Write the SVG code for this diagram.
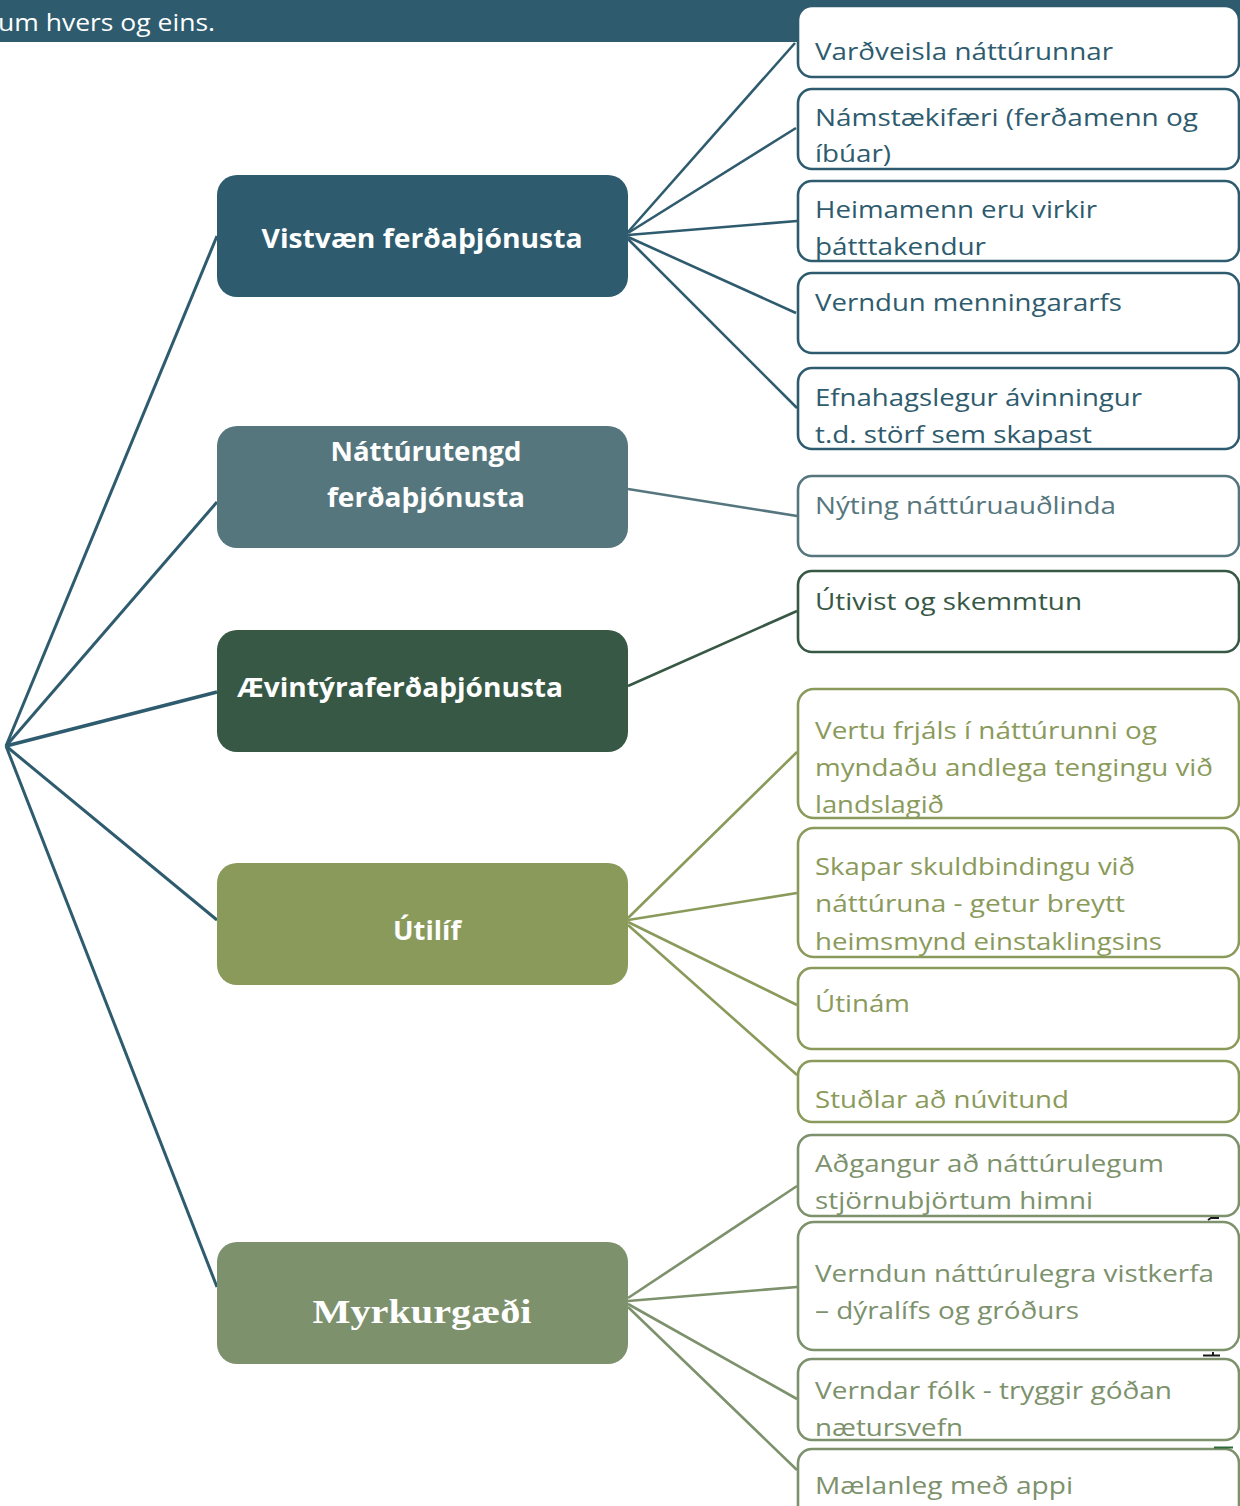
<svg xmlns="http://www.w3.org/2000/svg" width="1240" height="1506" viewBox="0 0 1240 1506">
<style>
.mt{font-family:"Open Sans","Noto Sans",sans-serif;font-weight:bold;font-size:27px;fill:#ffffff}
.serif{font-family:"Liberation Serif","DejaVu Serif",serif;font-weight:bold;font-size:33px;fill:#ffffff}
.leaf{fill:#ffffff;stroke-width:2.6}
.lt{font-family:"Open Sans","Noto Sans",sans-serif;font-size:24px}
.c1{stroke:#2e5b6e}.f1{fill:#2e5b6e}
.c2{stroke:#56767e}.f2{fill:#56767e}
.c3{stroke:#375845}.f3{fill:#375845}
.c4{stroke:#8a9a5b}.f4{fill:#8a9a5b}
.c5{stroke:#7c916c}.f5{fill:#7c916c}
#connectors line{fill:none;stroke-width:2.6}
.mark{stroke:#1a1a1a;stroke-width:2;fill:none}
</style>
<rect width="1240" height="1506" fill="#ffffff"/>
<g id="header">
<rect x="0" y="0" width="1240" height="42" fill="#2e5b6e"/>
<text x="-2" y="31" font-family="Open Sans,Noto Sans,sans-serif" font-size="24" fill="#ffffff" textLength="217" lengthAdjust="spacingAndGlyphs">um hvers og eins.</text>
</g>
<g id="connectors">
<line class="c1" x1="6" y1="746" x2="217" y2="236" style="stroke-width:3"/>
<line class="c1" x1="6" y1="746" x2="217" y2="502" style="stroke-width:3"/>
<line class="c1" x1="6" y1="746" x2="217" y2="692" style="stroke-width:3.4"/>
<line class="c1" x1="6" y1="746" x2="217" y2="920" style="stroke-width:3"/>
<line class="c1" x1="6" y1="746" x2="217" y2="1287" style="stroke-width:3"/>
<line class="c1" x1="628" y1="232" x2="795" y2="43"/>
<line class="c1" x1="628" y1="233" x2="796" y2="128"/>
<line class="c1" x1="628" y1="235" x2="797" y2="221"/>
<line class="c1" x1="628" y1="237" x2="796" y2="313"/>
<line class="c1" x1="628" y1="239" x2="797" y2="408"/>
<line class="c2" x1="628" y1="489" x2="797" y2="516"/>
<line class="c3" x1="628" y1="686" x2="797" y2="611"/>
<line class="c4" x1="628" y1="918" x2="797" y2="752"/>
<line class="c4" x1="628" y1="920" x2="797" y2="893"/>
<line class="c4" x1="628" y1="922" x2="797" y2="1005"/>
<line class="c4" x1="628" y1="925" x2="797" y2="1075"/>
<line class="c5" x1="628" y1="1298" x2="797" y2="1186"/>
<line class="c5" x1="628" y1="1301" x2="797" y2="1287"/>
<line class="c5" x1="628" y1="1304" x2="797" y2="1399"/>
<line class="c5" x1="628" y1="1307" x2="797" y2="1470"/>
</g>
<g id="vistvaen">
<rect x="217" y="175" width="411" height="122" rx="20" class="f1"/>
<text x="422" y="248" class="mt" text-anchor="middle" textLength="321" lengthAdjust="spacingAndGlyphs">Vistvæn ferðaþjónusta</text>
</g>
<g id="natturutengd">
<rect x="217" y="426" width="411" height="122" rx="20" class="f2"/>
<text x="426" y="461" class="mt" text-anchor="middle" textLength="191" lengthAdjust="spacingAndGlyphs">Náttúrutengd</text>
<text x="426" y="507" class="mt" text-anchor="middle" textLength="198" lengthAdjust="spacingAndGlyphs">ferðaþjónusta</text>
</g>
<g id="aevintyra">
<rect x="217" y="630" width="411" height="122" rx="20" class="f3"/>
<text x="237" y="697" class="mt" textLength="326" lengthAdjust="spacingAndGlyphs">Ævintýraferðaþjónusta</text>
</g>
<g id="utilif">
<rect x="217" y="863" width="411" height="122" rx="20" class="f4"/>
<text x="427" y="940" class="mt" text-anchor="middle" textLength="68" lengthAdjust="spacingAndGlyphs">Útilíf</text>
</g>
<g id="myrkurgaedi">
<rect x="217" y="1242" width="411" height="122" rx="20" class="f5"/>
<text x="422" y="1323" class="serif" text-anchor="middle" textLength="219" lengthAdjust="spacingAndGlyphs">Myrkurgæði</text>
</g>
<g id="leaf1">
<rect x="798" y="6" width="441" height="71" rx="14" class="leaf c1"/>
<text x="815" y="60" class="lt f1" textLength="298" lengthAdjust="spacingAndGlyphs">Varðveisla náttúrunnar</text>
</g>
<g id="leaf2">
<rect x="798" y="89" width="441" height="80" rx="14" class="leaf c1"/>
<text x="815" y="126" class="lt f1" textLength="383" lengthAdjust="spacingAndGlyphs">Námstækifæri (ferðamenn og</text>
<text x="815" y="162" class="lt f1" textLength="76" lengthAdjust="spacingAndGlyphs">íbúar)</text>
</g>
<g id="leaf3">
<rect x="798" y="181" width="441" height="80" rx="14" class="leaf c1"/>
<text x="815" y="218" class="lt f1" textLength="282" lengthAdjust="spacingAndGlyphs">Heimamenn eru virkir</text>
<text x="815" y="255" class="lt f1" textLength="171" lengthAdjust="spacingAndGlyphs">þátttakendur</text>
</g>
<g id="leaf4">
<rect x="798" y="273" width="441" height="80" rx="14" class="leaf c1"/>
<text x="815" y="311" class="lt f1" textLength="307" lengthAdjust="spacingAndGlyphs">Verndun menningararfs</text>
</g>
<g id="leaf5">
<rect x="798" y="368" width="441" height="81" rx="14" class="leaf c1"/>
<text x="815" y="406" class="lt f1" textLength="327" lengthAdjust="spacingAndGlyphs">Efnahagslegur ávinningur</text>
<text x="815" y="443" class="lt f1" textLength="277" lengthAdjust="spacingAndGlyphs">t.d. störf sem skapast</text>
</g>
<g id="leaf6">
<rect x="798" y="476" width="441" height="80" rx="14" class="leaf c2"/>
<text x="815" y="514" class="lt f2" textLength="301" lengthAdjust="spacingAndGlyphs">Nýting náttúruauðlinda</text>
</g>
<g id="leaf7">
<rect x="798" y="571" width="441" height="81" rx="14" class="leaf c3"/>
<text x="815" y="610" class="lt f3" textLength="267" lengthAdjust="spacingAndGlyphs">Útivist og skemmtun</text>
</g>
<g id="leaf8">
<rect x="798" y="689" width="441" height="129" rx="16" class="leaf c4"/>
<text x="815" y="739" class="lt f4" textLength="342" lengthAdjust="spacingAndGlyphs">Vertu frjáls í náttúrunni og</text>
<text x="815" y="776" class="lt f4" textLength="398" lengthAdjust="spacingAndGlyphs">myndaðu andlega tengingu við</text>
<text x="815" y="813" class="lt f4" textLength="129" lengthAdjust="spacingAndGlyphs">landslagið</text>
</g>
<g id="leaf9">
<rect x="798" y="828" width="441" height="129" rx="16" class="leaf c4"/>
<text x="815" y="875" class="lt f4" textLength="320" lengthAdjust="spacingAndGlyphs">Skapar skuldbindingu við</text>
<text x="815" y="912" class="lt f4" textLength="310" lengthAdjust="spacingAndGlyphs">náttúruna - getur breytt</text>
<text x="815" y="950" class="lt f4" textLength="347" lengthAdjust="spacingAndGlyphs">heimsmynd einstaklingsins</text>
</g>
<g id="leaf10">
<rect x="798" y="968" width="441" height="81" rx="14" class="leaf c4"/>
<text x="815" y="1012" class="lt f4" textLength="95" lengthAdjust="spacingAndGlyphs">Útinám</text>
</g>
<g id="leaf11">
<rect x="798" y="1061" width="441" height="61" rx="14" class="leaf c4"/>
<text x="815" y="1108" class="lt f4" textLength="254" lengthAdjust="spacingAndGlyphs">Stuðlar að núvitund</text>
</g>
<g id="leaf12">
<rect x="798" y="1135" width="441" height="81" rx="14" class="leaf c5"/>
<text x="815" y="1172" class="lt f5" textLength="349" lengthAdjust="spacingAndGlyphs">Aðgangur að náttúrulegum</text>
<text x="815" y="1209" class="lt f5" textLength="278" lengthAdjust="spacingAndGlyphs">stjörnubjörtum himni</text>
</g>
<g id="leaf13">
<rect x="798" y="1222" width="441" height="128" rx="16" class="leaf c5"/>
<text x="815" y="1282" class="lt f5" textLength="399" lengthAdjust="spacingAndGlyphs">Verndun náttúrulegra vistkerfa</text>
<text x="815" y="1319" class="lt f5" textLength="264" lengthAdjust="spacingAndGlyphs">– dýralífs og gróðurs</text>
</g>
<g id="leaf14">
<rect x="798" y="1359" width="441" height="81" rx="14" class="leaf c5"/>
<text x="815" y="1399" class="lt f5" textLength="357" lengthAdjust="spacingAndGlyphs">Verndar fólk - tryggir góðan</text>
<text x="815" y="1436" class="lt f5" textLength="148" lengthAdjust="spacingAndGlyphs">nætursvefn</text>
</g>
<g id="leaf15">
<rect x="798" y="1449" width="441" height="70" rx="14" class="leaf c5"/>
<text x="815" y="1494" class="lt f5" textLength="258" lengthAdjust="spacingAndGlyphs">Mælanleg með appi</text>
</g>
<g id="marks">
<path class="mark" d="M1208 1220 L1211 1218 L1219 1218"/>
<path class="mark" d="M1203 1355.5 L1220 1355.5 M1213 1352 L1213 1355"/>
<path d="M1214 1447.5 L1233 1447.5" stroke="#2f6b3a" stroke-width="2" fill="none"/>
</g>
</svg>
